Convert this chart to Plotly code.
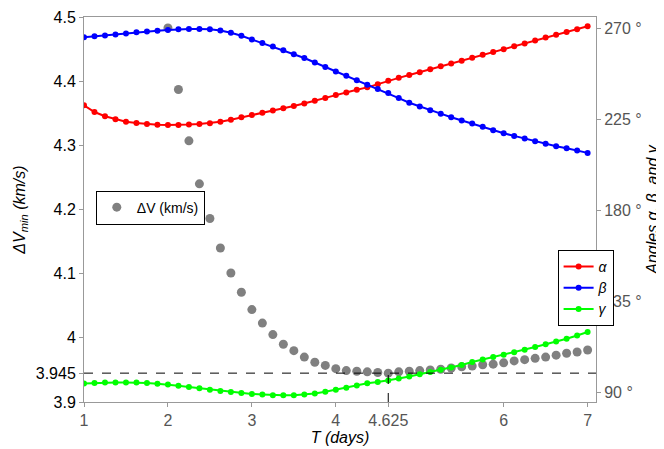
import numpy as np
import plotly.graph_objects as go

# T grid for the angle curves (days)
T_angles = [1 + 0.125 * i for i in range(49)]

alpha = [232.1, 228.8, 226.7, 225.2, 224.0, 223.4, 222.9, 222.5, 222.4, 222.4,
         222.6, 222.9, 223.3, 224.0, 225.0, 226.2, 227.3, 228.4, 229.5, 230.7,
         231.8, 233.0, 234.4, 235.8, 237.2, 238.5, 239.8, 241.0, 242.6, 244.3,
         245.7, 247.1, 248.5, 250.0, 251.4, 252.8, 254.2, 255.6, 257.1, 258.5,
         259.9, 261.3, 262.7, 264.2, 265.6, 267.0, 268.4, 269.8, 271.2]

beta = [265.8, 266.3, 266.7, 267.2, 267.7, 268.2, 268.6, 269.0, 269.4, 269.7,
        269.9, 269.9, 269.7, 269.1, 268.0, 266.5, 264.7, 263.0, 261.2, 259.3,
        257.4, 255.5, 253.3, 251.1, 248.8, 246.7, 244.5, 242.3, 240.2, 238.2,
        235.7, 233.4, 231.5, 229.7, 228.0, 226.2, 224.6, 223.1, 221.5, 219.8,
        218.3, 217.0, 215.7, 214.4, 213.1, 211.9, 210.9, 209.8, 208.6]

gamma = [94.5, 94.8, 95.0, 95.1, 95.1, 95.0, 94.8, 94.4, 94.0, 93.4,
         92.8, 92.2, 91.5, 90.9, 90.3, 89.8, 89.4, 89.1, 88.8, 88.7,
         88.8, 89.1, 89.6, 90.5, 91.5, 92.5, 93.6, 94.7, 95.3, 96.0,
         97.0, 98.0, 99.1, 100.2, 101.3, 102.5, 103.7, 105.2, 106.4, 107.6,
         108.8, 110.0, 111.3, 112.6, 114.0, 115.3, 116.7, 118.3, 120.0]

# delta-V points (km/s)
T_dv = [2 + 0.125 * i for i in range(41)]
dv = [4.483, 4.387, 4.307, 4.240, 4.186, 4.140, 4.101, 4.071, 4.044, 4.023,
      4.005, 3.990, 3.980, 3.970, 3.962, 3.957, 3.952, 3.949, 3.948, 3.947,
      3.946, 3.945, 3.947, 3.948, 3.949, 3.950, 3.951, 3.953, 3.955, 3.956,
      3.958, 3.959, 3.961, 3.964, 3.966, 3.968, 3.970, 3.973, 3.976, 3.978,
      3.981]

x_ticks = [1, 2, 3, 4, 4.625, 6, 7]
y_ticks = [3.9, 3.945, 4, 4.1, 4.2, 4.3, 4.4, 4.5]
y_ticktext = ["3.9", "3.945", "4", "4.1", "4.2", "4.3", "4.4", "4.5"]
angle_ticks = [90, 135, 180, 225, 270]

i_min = int(np.argmin(dv))
T_min, dv_min = T_dv[i_min], dv[i_min]

fig = go.Figure()

fig.add_trace(go.Scatter(x=T_dv, y=dv, mode="markers", name="ΔV (km/s)", showlegend=True,
                         marker=dict(color="#808080", size=9), legend="legend"))

for name, vals, col in [("<i>α</i>", alpha, "#ff0000"), ("<i>β</i>", beta, "#0000ff"), ("<i>γ</i>", gamma, "#00ff00")]:
    fig.add_trace(go.Scatter(x=T_angles, y=vals, mode="lines+markers", name=name, showlegend=True,
                             line=dict(color=col, width=2), marker=dict(color=col, size=6),
                             yaxis="y2", legend="legend2"))

# dashed guide lines at the minimum
fig.add_shape(type="line", xref="paper", x0=0, x1=1, y0=dv_min, y1=dv_min, yref="y",
              line=dict(color="black", width=1, dash="dash"))
fig.add_shape(type="line", xref="x", x0=T_min, x1=T_min, y0=3.9, y1=dv_min, yref="y",
              line=dict(color="black", width=1, dash="dash"))

fig.update_layout(
    width=664, height=449,
    margin=dict(l=76, r=76, t=9, b=55, autoexpand=False),
    plot_bgcolor="white", paper_bgcolor="white",
    font=dict(family="Liberation Sans, Arial", size=16, color="#555555"),
    xaxis=dict(range=[1, 7.1], tickvals=x_ticks, ticktext=["1", "2", "3", "4", "4.625", "6", "7"],
               showgrid=False, zeroline=False, showline=True, linecolor="#999999", mirror=True,
               ticks="outside", ticklen=4, tickcolor="#999999", automargin=False,
               title=dict(text="<i>T (days)</i>", font=dict(color="black", size=16), standoff=2)),
    yaxis=dict(range=[3.9, 4.5], tickvals=y_ticks, ticktext=y_ticktext,
               showgrid=False, zeroline=False, showline=True, linecolor="#999999",
               ticks="outside", ticklen=4, tickcolor="#999999", automargin=False,
               tickfont=dict(color="black", size=16),
               title=dict(text="<i>ΔV<sub>min</sub> (km/s)</i>", font=dict(color="black", size=16), standoff=6)),
    yaxis2=dict(range=[85.4, 275.8], overlaying="y", side="right", tickvals=angle_ticks,
                ticktext=[f"{a} °" for a in angle_ticks], showgrid=False, zeroline=False,
                showline=True, linecolor="#999999", ticks="outside", ticklen=4, tickcolor="#999999",
                tickfont=dict(color="#555555", size=16), automargin=False,
                title=dict(text="<i>Angles α, β, and γ</i>", font=dict(color="black", size=16), standoff=6)),
    legend=dict(x=0.023, y=0.505, xanchor="left", yanchor="middle", bordercolor="black",
                borderwidth=1, bgcolor="white", font=dict(color="black", size=14)),
    legend2=dict(x=0.925, y=0.395, xanchor="left", yanchor="top", bordercolor="black",
                 borderwidth=1, bgcolor="white", font=dict(color="black", size=14),
                 itemwidth=30),
)

fig.write_html("out.html")
